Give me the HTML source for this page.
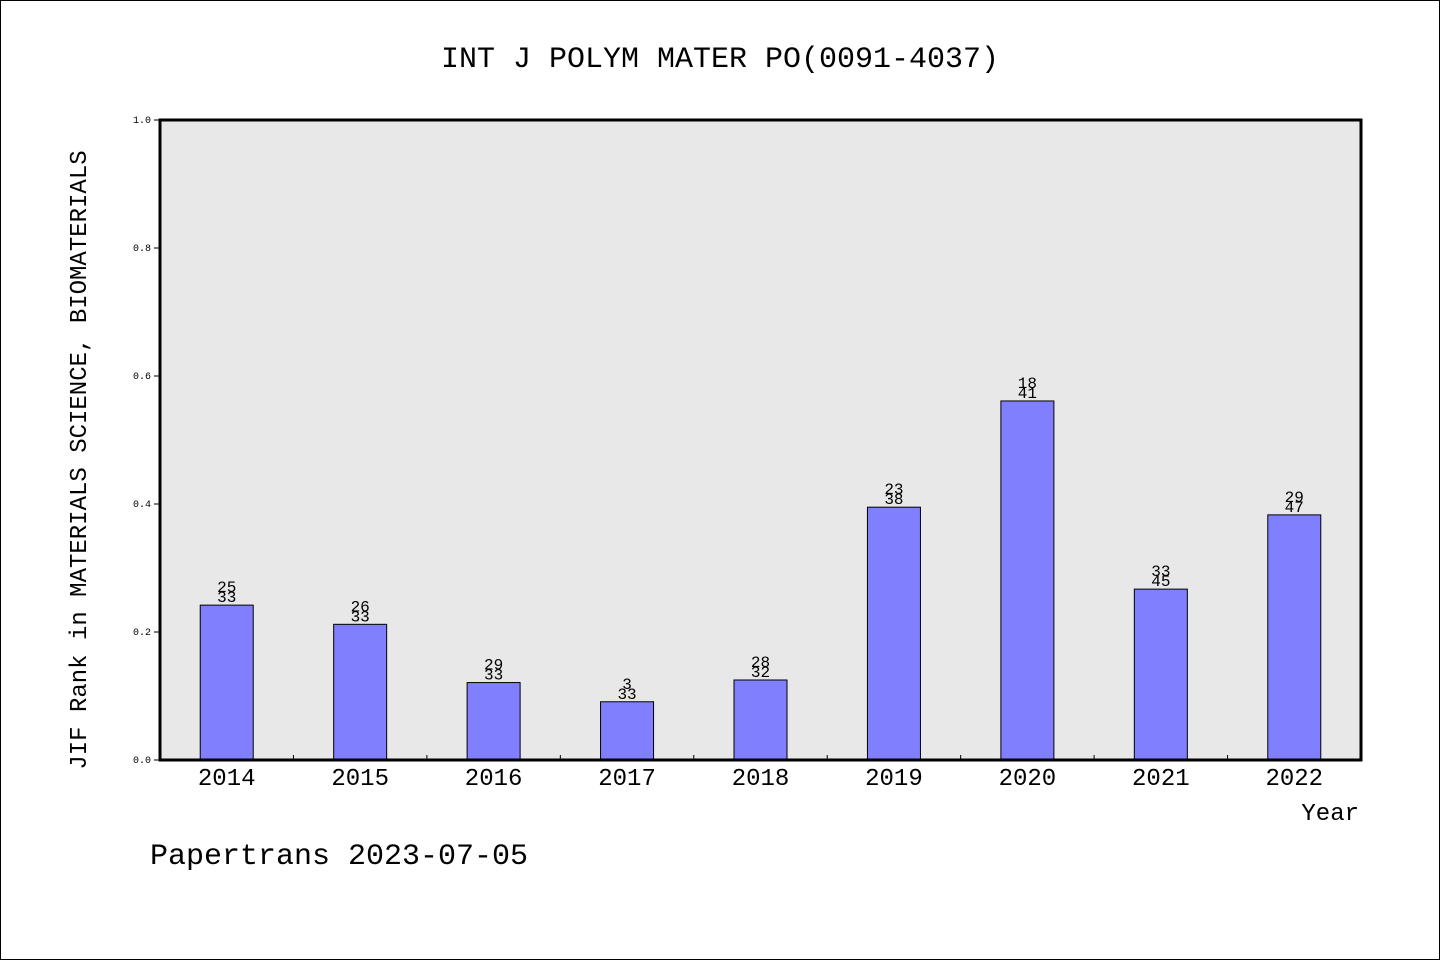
<!DOCTYPE html>
<html><head><meta charset="utf-8"><style>
body{margin:0;background:#fff}
svg{display:block;font-family:"WenQuanYi Zen Hei","Liberation Mono",monospace}
</style></head><body>
<svg width="1440" height="960">
<rect x="0.5" y="0.5" width="1439" height="959" fill="#fff" stroke="#000"/>
<text x="720" y="67" font-size="30" text-anchor="middle">INT J POLYM MATER PO(0091-4037)</text>
<rect x="160" y="120" width="1201" height="640" fill="#e8e8e8"/>
<g id="g"></g>
<rect x="160" y="120" width="1201" height="640" fill="none" stroke="#000" stroke-width="3"/>
<text x="86" y="460" font-size="24" text-anchor="middle" transform="rotate(-90 86 460)">JIF Rank in MATERIALS SCIENCE, BIOMATERIALS</text>
<text x="1359" y="820" font-size="24" text-anchor="end">Year</text>
<text x="150" y="864" font-size="30">Papertrans 2023-07-05</text>
</svg>
<script>
const years=["2014","2015","2016","2017","2018","2019","2020","2021","2022"];
const values=[0.242,0.212,0.121,0.091,0.125,0.395,0.561,0.267,0.383];
const ranks=["25","26","29","3","28","23","18","33","29"];
const totals=["33","33","33","33","32","38","41","45","47"];
const yTicks=[0,0.2,0.4,0.6,0.8,1.0];
const L=160,R=1361,T=120,B=760;
const bw=(R-L)/years.length;
const x=i=>L+bw*(i+0.5);
const y=v=>B-(B-T)*v;
const g=document.getElementById('g');
const NS="http://www.w3.org/2000/svg";
function mk(t,a){const e=document.createElementNS(NS,t);for(const k in a)e.setAttribute(k,a[k]);g.appendChild(e);return e;}
yTicks.forEach(v=>{
 const l=mk('line',{x1:L-6,x2:L,y1:y(v),y2:y(v),stroke:'#000'});
 
 
 const t=mk('text',{x:L-9,y:y(v)+3,'font-size':10,'text-anchor':'end'});
 t.textContent=v.toFixed(1);
 
 
});
years.forEach((yr,i)=>{
 if(i>0){const l=mk('line',{x1:L+bw*i,x2:L+bw*i,y1:B,y2:B-5,stroke:'#000'});
 
 }
 const r=mk('rect',{x:x(i)-26.5,y:y(values[i]),width:53,height:B-y(values[i]),fill:'#8080ff',stroke:'#000'});
 
 
 const a=mk('text',{x:x(i),y:y(values[i])-32+19,'font-size':16,'text-anchor':'middle'});
 a.textContent=ranks[i];
 
 
 const b=mk('text',{x:x(i),y:y(values[i])-3,'font-size':16,'text-anchor':'middle'});
 b.textContent=totals[i];
 
 
 const t=mk('text',{x:x(i),y:B+25,'font-size':24,'text-anchor':'middle'});
 t.textContent=yr;
 
 
});
</script>
</body></html>
